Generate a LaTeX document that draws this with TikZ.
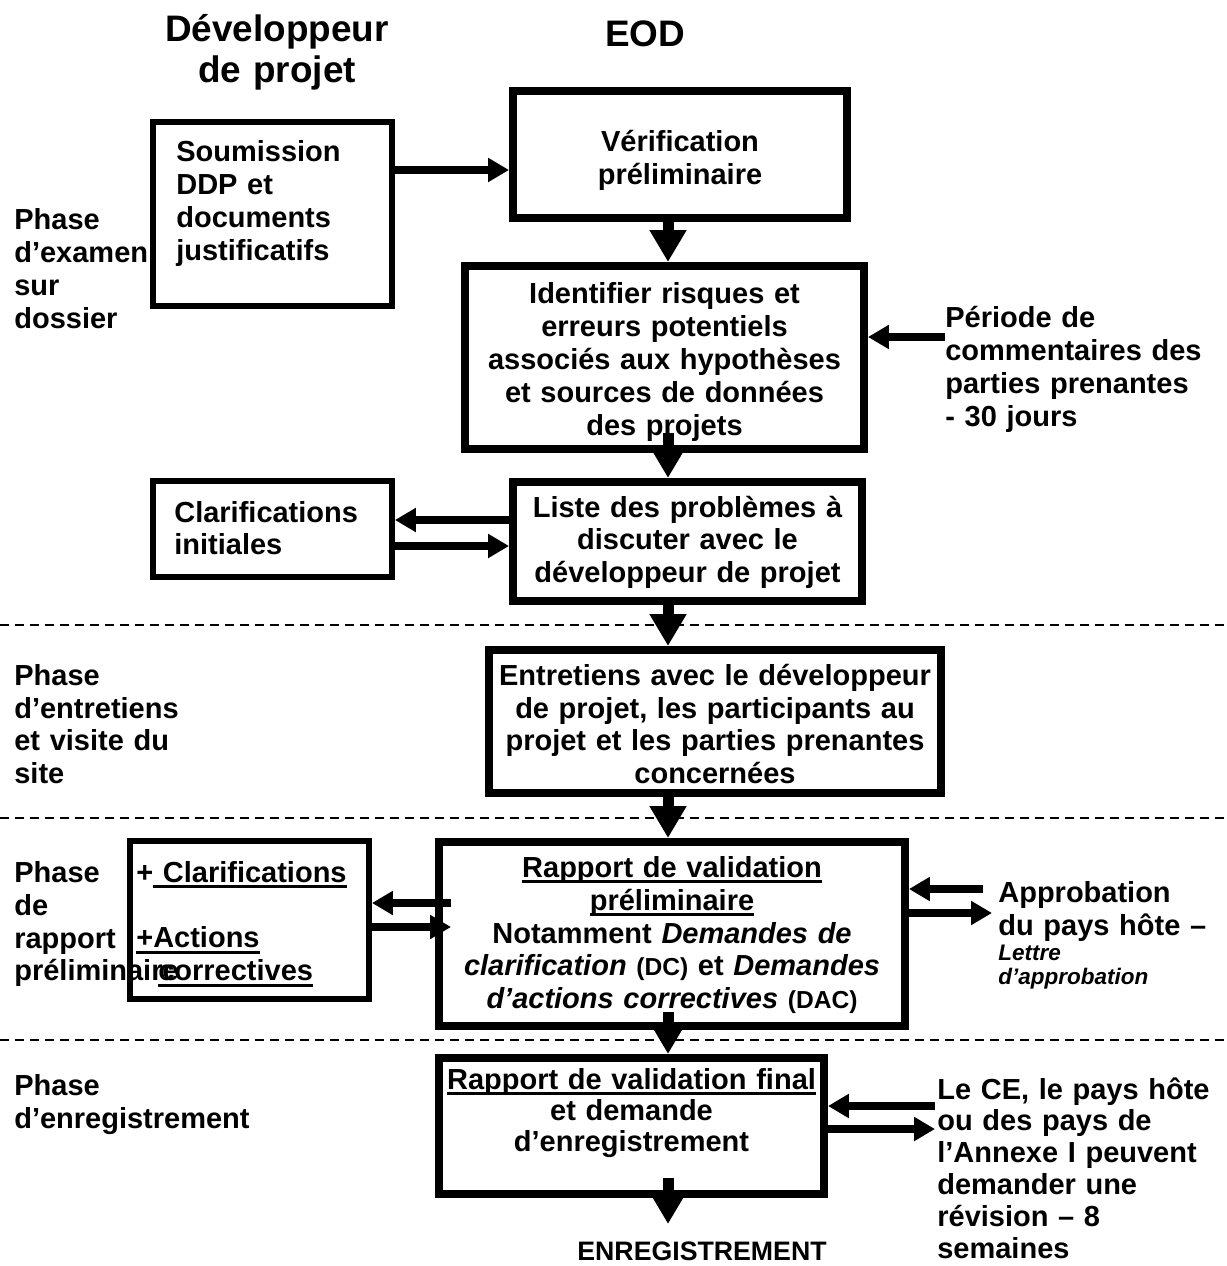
\documentclass[tikz,border=0pt]{standalone}
\usepackage{fontspec}
\setmainfont{Liberation Sans}
\usetikzlibrary{arrows.meta,calc}
\newcommand{\ulbar}[1]{\leavevmode\setbox0=\hbox{#1}\rlap{\rule[-3.2pt]{\wd0}{1.5pt}}\box0}
\newcommand{\dcfont}{\fontsize{14}{18.78}\selectfont}

\begin{document}
\begin{tikzpicture}[x=0.02cm,y=-0.02cm,
  font=\bfseries\fontsize{16.5}{18.78}\selectfont,
  eodbox/.style={draw,line width=0.16cm,inner sep=0pt},
  devbox/.style={draw,line width=0.12cm,inner sep=0pt},
  txt/.style={inner sep=0pt,text width=9.6cm,align=center,anchor=base},
  ltxt/.style={inner sep=0pt,text width=6cm,align=left,anchor=base west},
  hdr/.style={txt,font=\bfseries\fontsize{21}{22.8}\selectfont},
  bigarrow/.style={line width=0.22cm,-{Triangle[length=0.64cm,width=0.7cm]}},
  smallarrow/.style={line width=0.17cm,-{Triangle[length=0.42cm,width=0.46cm]}},
  sepline/.style={line width=0.03cm,dash pattern=on 0.18cm off 0.12cm}]
\useasboundingbox (0,0) rectangle (1226,1266);
\draw[sepline] (0,625) -- (1226,625);
\draw[sepline] (0,818) -- (1226,818);
\draw[sepline] (0,1040) -- (1226,1040);
% headers
\node[hdr] (hdrdev) at (277,42) {Développeur\\de projet};
\node[hdr] (hdreod) at (645,47) {EOD};
% boxes
\node[devbox,minimum width=4.78cm,minimum height=3.68cm] (soum) at (272.5,214) {};
\node[eodbox,minimum width=6.68cm,minimum height=2.54cm] (verif) at (680,154.5) {};
\node[eodbox,minimum width=7.98cm,minimum height=3.66cm] (ident) at (664.5,357.5) {};
\node[devbox,minimum width=4.78cm,minimum height=1.92cm] (clarinit) at (272.5,529) {};
\node[eodbox,minimum width=6.98cm,minimum height=2.38cm] (liste) at (687.5,541.5) {};
\node[eodbox,minimum width=9.04cm,minimum height=2.86cm] (entre) at (715,721.5) {};
\node[devbox,minimum width=4.78cm,minimum height=3.16cm] (prelleft) at (249.5,920) {};
\node[eodbox,minimum width=9.32cm,minimum height=3.68cm] (rapport) at (672,934) {};
\node[eodbox,minimum width=7.70cm,minimum height=2.72cm] (final) at (631.5,1126) {};
% texts
\node[ltxt] (tsoum) at (176,162) {Soumission\\DDP et\\documents\\justificatifs};
\node[txt] (tverif) at (680,152) {Vérification\\préliminaire};
\node[txt] (tident) at (664.5,304) {Identifier risques et\\erreurs potentiels\\associés aux hypothèses\\et sources de données\\des projets};
\node[ltxt] (tperiode) at (945,328) {Période de\\commentaires des\\parties prenantes\\- 30 jours};
\node[ltxt] (tphaseA) at (14,230) {Phase\\d’examen\\sur\\dossier};
\node[ltxt] (tclarinit) at (174,522) {Clarifications\\initiales};
\node[txt] (tliste) at (687.5,517) {Liste des problèmes à\\discuter avec le\\développeur de projet};
\node[ltxt] (tphaseB) at (14,685) {Phase\\d’entretiens\\et visite du\\site};
\node[txt] (tentre) at (715,685) {Entretiens avec le développeur\\de projet, les participants au\\projet et les parties prenantes\\concernées};
\node[ltxt] (tphaseC) at (14,882) {Phase\\de\\rapport\\préliminaire};
\node[ltxt] (tprel) at (136,882) {+\ulbar{ Clarifications}\\[0.66cm]\ulbar{+Actions}\\\hspace*{0.44cm}\ulbar{correctives}};
\node[txt] (trapport) at (672,877) {\ulbar{Rapport de validation}\\\ulbar{préliminaire}\\Notamment \textit{Demandes de}\\\textit{clarification} {\dcfont(DC)} et \textit{Demandes}\\\textit{d’actions correctives} {\dcfont(DAC)}};
\node[ltxt] (tapprob) at (998,902) {Approbation\\du pays hôte –};
\node[ltxt,font=\bfseries\itshape\fontsize{12.8}{14.2}\selectfont] (tlettre) at (998,960) {Lettre\\d’approbation};
\node[ltxt] (tphaseD) at (14,1095) {Phase\\d’enregistrement};
\node[txt,font=\bfseries\fontsize{16.5}{17.7}\selectfont] (tfinal) at (631.5,1089) {\ulbar{Rapport de validation final}\\et demande\\d’enregistrement};
\node[ltxt,font=\bfseries\fontsize{16.5}{18.2}\selectfont] (tlece) at (937,1099) {Le CE, le pays hôte\\ou des pays de\\l’Annexe I peuvent\\demander une\\révision – 8\\semaines};
\node[txt,font=\bfseries\fontsize{15.2}{17}\selectfont] (tenreg) at (702,1260) {ENREGISTREMENT};
% main flow
\coordinate (spine) at (668,0);
\coordinate (endtip) at (668,1224);
\draw[bigarrow] (verif.south -| spine) -- (ident.north -| spine);
\draw[bigarrow] ($(ident.south -| spine)+(0,-20)$) -- (liste.north -| spine);
\draw[bigarrow] (liste.south -| spine) -- (entre.north -| spine);
\draw[bigarrow] (entre.south -| spine) -- (rapport.north -| spine);
\draw[bigarrow] ($(rapport.south -| spine)+(0,-18)$) -- (final.north -| spine);
\draw[bigarrow] ($(final.south -| spine)+(0,-20)$) -- (endtip);
% side arrows
\draw[smallarrow] (soum.east |- 0,170) -- (verif.west |- 0,170);
\draw[smallarrow] (tperiode.west |- 0,337) -- (ident.east |- 0,337);
\draw[smallarrow] (liste.west |- 0,520) -- (clarinit.east |- 0,520);
\draw[smallarrow] (clarinit.east |- 0,546) -- (liste.west |- 0,546);
\draw[smallarrow] ($(rapport.west |- 0,903)+(16,0)$) -- (prelleft.east |- 0,903);
\draw[smallarrow] (prelleft.east |- 0,927) -- ($(rapport.west |- 0,927)+(16,0)$);
\draw[smallarrow] ($(tapprob.west |- 0,889)+(-15,0)$) -- (rapport.east |- 0,889);
\draw[smallarrow] (rapport.east |- 0,913) -- ($(tapprob.west |- 0,913)+(-6,0)$);
\draw[smallarrow] ($(tlece.west |- 0,1106)+(-2,0)$) -- (final.east |- 0,1106);
\draw[smallarrow] (final.east |- 0,1129) -- ($(tlece.west |- 0,1129)+(-2,0)$);
\end{tikzpicture}
\end{document}
